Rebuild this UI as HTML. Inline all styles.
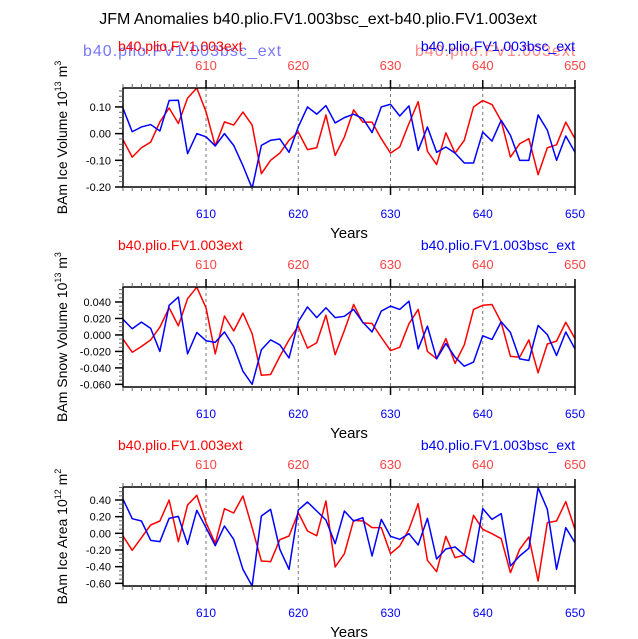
<!DOCTYPE html>
<html><head><meta charset="utf-8"><style>
body{margin:0;background:#fff;}
svg{display:block;font-family:"Liberation Sans",sans-serif;}
</style></head><body>
<svg id="chart" width="638" height="639" viewBox="0 0 638 639">
<text x="318" y="24" font-size="16" text-anchor="middle">JFM Anomalies b40.plio.FV1.003bsc_ext-b40.plio.FV1.003ext</text>
</svg>
<script>
const years = [];
for (let y = 601; y <= 650; y++) years.push(y);
const xTicks = [610, 620, 630, 640, 650];
const volRed = [-0.023,-0.088,-0.053,-0.032,0.044,0.096,0.038,0.133,0.171,0.082,-0.046,0.044,0.032,0.081,0.032,-0.15,-0.1,-0.073,-0.025,0.006,-0.06,-0.053,0.07,-0.082,-0.013,0.089,0.043,0.043,-0.019,-0.073,-0.05,0.038,0.12,-0.066,-0.116,0.003,-0.073,-0.025,0.1,0.124,0.109,0.048,-0.088,-0.038,-0.019,-0.154,-0.053,-0.042,0.043,-0.019];
const volBlue = [0.095,0.007,0.025,0.034,0.01,0.124,0.125,-0.075,0.0,-0.012,-0.046,0.0,-0.044,-0.12,-0.205,-0.044,-0.025,-0.02,-0.07,0.025,0.1,0.073,0.105,0.04,0.06,0.073,0.057,0.004,0.1,0.11,0.066,0.104,-0.063,0.025,-0.07,-0.05,-0.073,-0.11,-0.11,0.006,-0.028,0.05,-0.006,-0.1,-0.1,0.07,0.013,-0.1,-0.009,-0.07];
const snowRed = [-0.005,-0.021,-0.014,-0.006,0.0095,0.033,0.011,0.044,0.058,0.033,-0.023,0.023,0.0048,0.0265,0.0016,-0.049,-0.048,-0.026,-0.006,0.0107,-0.016,-0.0095,0.024,-0.024,0.0055,0.037,0.0147,0.0139,-0.003,-0.019,-0.015,0.0135,0.031,-0.02,-0.029,-0.0044,-0.0345,-0.012,0.031,0.036,0.037,0.0154,-0.026,-0.027,-0.006,-0.046,-0.011,-0.0075,0.0154,-0.0044];
const snowBlue = [0.019,0.0075,0.0155,0.008,-0.02,0.036,0.046,-0.023,0.003,-0.007,-0.009,0.0036,-0.014,-0.044,-0.06,-0.018,-0.006,-0.012,-0.028,0.016,0.034,0.021,0.033,0.021,0.0226,0.031,0.0154,0.0036,0.029,0.035,0.031,0.041,-0.017,0.0107,-0.029,-0.0103,-0.027,-0.038,-0.033,-0.001,-0.0055,0.016,0.003,-0.029,-0.031,0.0115,0.0004,-0.025,0.0036,-0.017];
const areaRed = [-0.032,-0.204,-0.052,0.1,0.148,0.4,-0.1,0.34,0.456,0.128,-0.12,0.296,0.244,0.448,0.068,-0.332,-0.34,-0.076,-0.032,0.248,0.028,-0.028,0.388,-0.404,-0.244,0.156,0.148,0.068,0.068,-0.244,-0.152,0.048,0.356,-0.324,-0.46,-0.036,-0.292,-0.26,0.216,0.048,-0.004,-0.064,-0.472,-0.192,-0.044,-0.572,0.128,0.148,0.38,0.048];
const areaBlue = [0.41,0.176,0.148,-0.084,-0.1,0.18,0.204,-0.132,0.276,0.068,-0.148,0.088,-0.072,-0.432,-0.632,0.208,0.288,-0.192,-0.432,0.28,0.376,0.268,0.16,-0.124,0.268,0.148,0.188,-0.272,0.168,-0.036,-0.072,-0.004,-0.14,0.18,-0.308,-0.188,-0.164,-0.26,-0.348,0.296,0.168,0.236,-0.392,-0.272,-0.18,0.548,0.288,-0.432,0.068,-0.112];
const volTicks = [0.10, 0.00, -0.10, -0.20];
const volTickLabels = ["0.10","0.00","-0.10","-0.20"];
const snowTicks = [0.04, 0.02, 0, -0.02, -0.04, -0.06];
const snowTickLabels = ["0.040","0.020","0.000","-0.020","-0.040","-0.060"];
const areaTicks = [0.4, 0.2, 0, -0.2, -0.4, -0.6];
const areaTickLabels = ["0.40","0.20","0.00","-0.20","-0.40","-0.60"];

const svg = document.getElementById('chart');
const NS = 'http://www.w3.org/2000/svg';
function mk(tag, attrs, parent) {
  const e = document.createElementNS(NS, tag);
  for (const k in attrs) e.setAttribute(k, attrs[k]);
  (parent || svg).appendChild(e);
  return e;
}
const X0 = 123, X1 = 575;
function xScale(yr) { return X0 + (yr - 601) * (X1 - X0) / 49; }

const panels = [
  {key:'ice-volume', top:88, bot:187, ymin:-0.2, ymax:0.171, red:volRed, blue:volBlue, ticks:volTicks, labels:volTickLabels, minorStep:0.02, lab:'BAm Ice Volume 10', sup:'13', unit:' m', usup:'3', faded:true},
  {key:'snow-volume', top:287, bot:387, ymin:-0.0632, ymax:0.0582, red:snowRed, blue:snowBlue, ticks:snowTicks, labels:snowTickLabels, minorStep:0.005, lab:'BAm Snow Volume 10', sup:'13', unit:' m', usup:'3'},
  {key:'ice-area', top:487, bot:586, ymin:-0.632, ymax:0.556, red:areaRed, blue:areaBlue, ticks:areaTicks, labels:areaTickLabels, minorStep:0.05, lab:'BAm Ice Area 10', sup:'12', unit:' m', usup:'2'}
];

panels.forEach(p => {
  const g = mk('g', {});
  
  
  const ys = v => p.bot - (v - p.ymin) / (p.ymax - p.ymin) * (p.bot - p.top);
  [610,620,630,640].forEach(t => {
    const l = mk('line', {x1:xScale(t), x2:xScale(t), y1:p.top, y2:p.bot, stroke:'#777', 'stroke-width':1, 'stroke-dasharray':'3,3'}, g);
    
    
  });
  const mkLine = (arr, col, nm) => {
    const d = arr.map((v,i) => (i ? 'L' : 'M') + xScale(years[i]).toFixed(2) + ',' + ys(v).toFixed(2)).join('');
    const pth = mk('path', {d:d, fill:'none', stroke:col, 'stroke-width':1.5, 'stroke-linejoin':'round'}, g);
    
    
  };
  mkLine(p.red, '#ff0000', p.key + '-red-line');
  mkLine(p.blue, '#0000ff', p.key + '-blue-line');
  const fr = mk('rect', {x:X0, y:p.top, width:X1-X0, height:p.bot-p.top, fill:'none', stroke:'#000', 'stroke-width':1.5}, g);
  
  
  years.forEach(yr => {
    const major = yr % 10 === 0;
    const len = major ? 8 : 4;
    mk('line', {x1:xScale(yr), x2:xScale(yr), y1:p.top, y2:p.top-len, stroke:major?'#000':'#666', 'stroke-width':major?1.5:1}, g);
    mk('line', {x1:xScale(yr), x2:xScale(yr), y1:p.bot, y2:p.bot+len, stroke:major?'#000':'#666', 'stroke-width':major?1.5:1}, g);
  });
  xTicks.forEach(t => {
    const a = mk('text', {x:xScale(t), y:p.top-18, 'font-size':13, fill:'#ff4444', 'text-anchor':'middle'}, g);
    a.textContent = t;
    
    
    const b = mk('text', {x:xScale(t), y:p.bot+31, 'font-size':12, fill:'#0000ff', 'text-anchor':'middle'}, g);
    b.textContent = t;
    
    
  });
  for (let v = Math.ceil(p.ymin / p.minorStep) * p.minorStep; v <= p.ymax + 1e-9; v += p.minorStep) {
    mk('line', {x1:X0, x2:X0-4, y1:ys(v), y2:ys(v), stroke:'#666', 'stroke-width':1}, g);
  }
  p.ticks.forEach((v,i) => {
    mk('line', {x1:X0, x2:X0-8, y1:ys(v), y2:ys(v), stroke:'#000', 'stroke-width':1.5}, g);
    const t = mk('text', {x:X0-12, y:ys(v)+4, 'font-size':11, 'text-anchor':'end'}, g);
    t.textContent = p.labels[i];
    
    
  });
  const cy = (p.top + p.bot) / 2;
  const yt = mk('text', {x:0, y:0, 'font-size':14, 'text-anchor':'middle', transform:'translate(67,' + cy + ') rotate(-90)'}, g);
  
  
  yt.appendChild(document.createTextNode(p.lab));
  const s1 = mk('tspan', {'font-size':9, dy:-6}, yt); s1.textContent = p.sup;
  const s2 = mk('tspan', {dy:6}, yt); s2.textContent = p.unit;
  const s3 = mk('tspan', {'font-size':9, dy:-6}, yt); s3.textContent = p.usup;
  const xt = mk('text', {x:349, y:p.bot+51, 'font-size':15, 'text-anchor':'middle'}, g);
  xt.textContent = 'Years';
  
  
  if (p.faded) {
    const f1 = mk('text', {x:83, y:p.top-32, 'font-size':16, fill:'#7777ff', 'letter-spacing':'1'}, g);
    f1.textContent = 'b40.plio.FV1.003bsc_ext';
    
    
    const f2 = mk('text', {x:415, y:p.top-32, 'font-size':16, fill:'#ff8888', 'letter-spacing':'1'}, g);
    f2.textContent = 'b40.plio.FV1.003ext';
    
    
  }
  const rl = mk('text', {x:118, y:p.top-37, 'font-size':14, fill:'#ff0000'}, g);
  rl.textContent = 'b40.plio.FV1.003ext';
  
  
  const bl = mk('text', {x:575, y:p.top-37, 'font-size':14, fill:'#0000ff', 'text-anchor':'end'}, g);
  bl.textContent = 'b40.plio.FV1.003bsc_ext';
  
  
});
</script>
</body></html>
